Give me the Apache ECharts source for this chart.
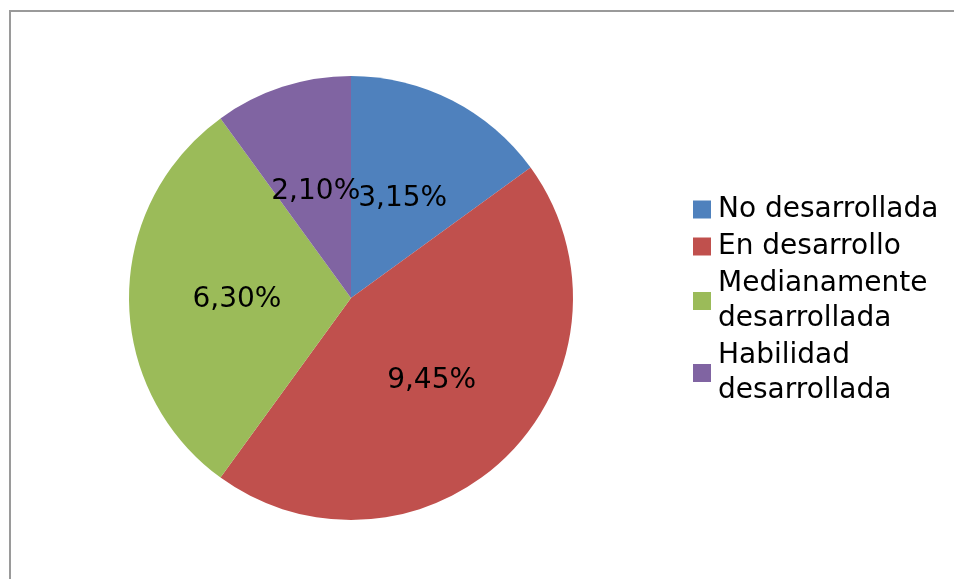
<!DOCTYPE html>
<html>
<head>
<meta charset="utf-8">
<style>
  html, body { margin: 0; padding: 0; background: #fff; }
  #chart { width: 954px; height: 579px; }
</style>
<script src="https://cdn.jsdelivr.net/npm/echarts@6/dist/echarts.min.js"></script>
</head>
<body>
<div id="chart"></div>
<script>
// Nivel de desarrollo de la habilidad
const categories = ['No desarrollada', 'En desarrollo', 'Medianamente desarrollada', 'Habilidad desarrollada'];
const legendLabels = ['No desarrollada', 'En desarrollo', 'Medianamente\ndesarrollada', 'Habilidad\ndesarrollada'];
const values = [3.15, 9.45, 6.30, 2.10];
const colors = ['#4F81BD', '#C0504D', '#9BBB59', '#8064A2'];

const chart = echarts.init(document.getElementById('chart'), null, { renderer: 'canvas' });

const fontFamily = '"DejaVu Sans", sans-serif';

chart.setOption({
  animation: false,
  backgroundColor: '#ffffff',
  color: colors,
  graphic: [{
    type: 'rect',
    shape: { x: 10, y: 11, width: 2000, height: 2000 },
    style: { fill: 'none', stroke: '#9a9a9a', lineWidth: 2 },
    silent: true,
    z: -10
  }],
  legend: {
    orient: 'vertical',
    left: 688,
    top: 187,
    itemWidth: 18,
    itemHeight: 18,
    itemGap: 2,
    icon: 'rect',
    data: categories,
    formatter: function (name) {
      return legendLabels[categories.indexOf(name)];
    },
    textStyle: {
      fontFamily: fontFamily,
      fontSize: 28,
      color: '#000',
      lineHeight: 35,
      padding: [0, 0, 0, 2]
    }
  },
  series: [{
    type: 'pie',
    center: [351, 298],
    radius: [0, 222],
    startAngle: 90,
    clockwise: true,
    avoidLabelOverlap: false,
    itemStyle: { borderWidth: 0 },
    emphasis: { disabled: true },
    labelLayout: { hideOverlap: false },
    label: {
      show: true,
      position: 'inside',
      offset: [0, 2],
      fontFamily: fontFamily,
      fontSize: 28,
      color: '#000',
      formatter: function (p) {
        return p.value.toFixed(2).replace('.', ',') + '%';
      }
    },
    labelLine: { show: false },
    data: categories.map(function (name, i) {
      return { name: name, value: values[i] };
    })
  }]
});
</script>
</body>
</html>
